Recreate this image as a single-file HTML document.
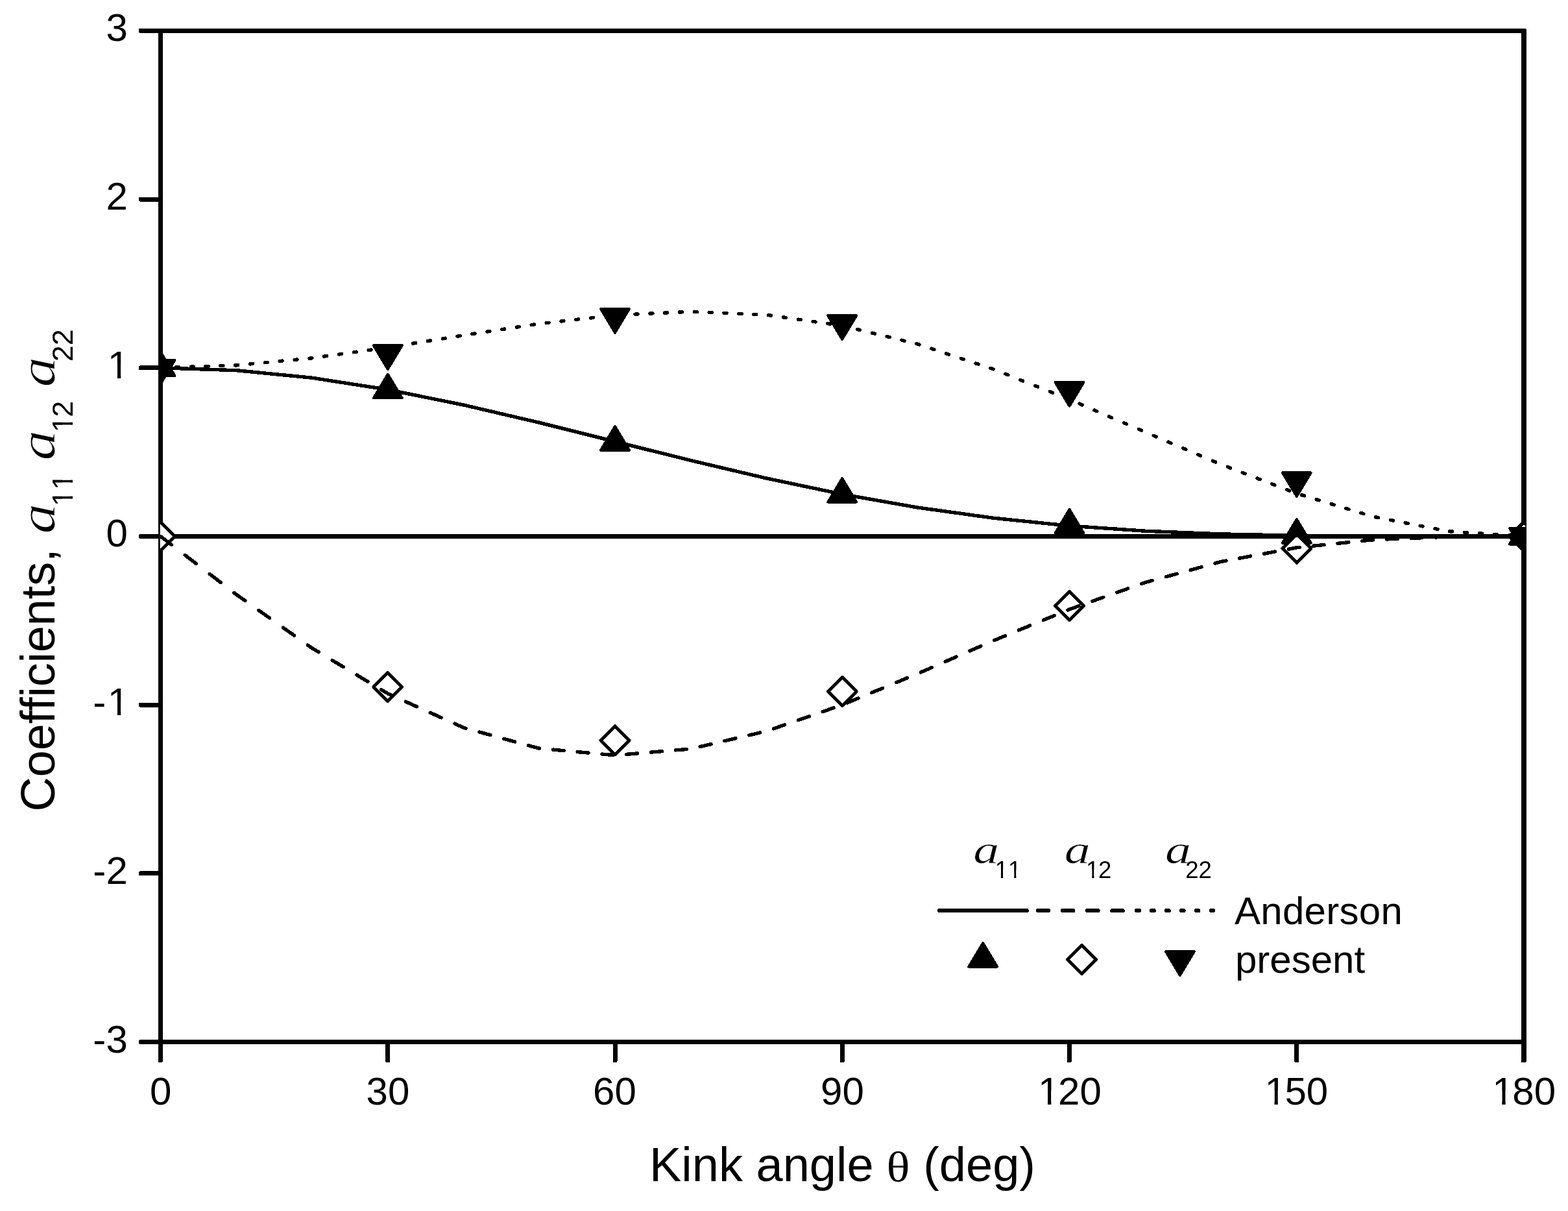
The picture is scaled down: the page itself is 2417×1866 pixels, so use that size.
<!DOCTYPE html>
<html lang="en">
<head>
<meta charset="utf-8">
<title>Coefficients a11, a12, a22 versus kink angle</title>
<style>
html,body{margin:0;padding:0;background:#fff;}
body{width:2417px;height:1866px;overflow:hidden;}
svg{display:block;}
.s{font-family:"Liberation Sans",Arial,Helvetica,sans-serif;fill:#000;font-kerning:none;}
.i{font-family:"Liberation Serif","Times New Roman",serif;font-style:italic;fill:#000;}
text{white-space:pre;}
.g{font-family:"Liberation Serif","Times New Roman",serif;fill:#000;}
.k{fill:none;stroke:#000;}
</style>
</head>
<body>
<svg width="2417" height="1866" viewBox="0 0 2417 1866">
<rect x="0" y="0" width="2417" height="1866" fill="#fff"/>
<defs><clipPath id="c"><rect x="246.8" y="43.9" width="2104.4" height="1565.1"/></clipPath></defs>
<g fill="#000" shape-rendering="crispEdges">
<rect x="244.0" y="43.9" width="7.0" height="1593.5" rx="2.4"/><rect x="2345.0" y="43.9" width="8.0" height="1593.5" rx="2.4"/><rect x="213.8" y="43.9" width="2139.2" height="7.0" rx="2.4"/><rect x="213.8" y="1602.0" width="2139.2" height="7.0" rx="2.4"/><rect x="213.8" y="823.0" width="2138.2" height="6.9" rx="2.4"/>
<rect x="213.8" y="303.6" width="34.2" height="6.9" rx="2.4"/><rect x="213.8" y="563.3" width="34.2" height="6.9" rx="2.4"/><rect x="213.8" y="1082.7" width="34.2" height="6.9" rx="2.4"/><rect x="213.8" y="1342.4" width="34.2" height="6.9" rx="2.4"/>
<rect x="594.2" y="1605.5" width="7.0" height="31.9" rx="2.4"/><rect x="944.5" y="1605.5" width="7.0" height="31.9" rx="2.4"/><rect x="1294.8" y="1605.5" width="7.0" height="31.9" rx="2.4"/><rect x="1645.0" y="1605.5" width="7.0" height="31.9" rx="2.4"/><rect x="1995.2" y="1605.5" width="7.0" height="31.9" rx="2.4"/>
</g>
<g clip-path="url(#c)" shape-rendering="crispEdges">
<g fill="#000" stroke="#000" stroke-width="4.0" stroke-linejoin="round">
<polygon points="225.5,578.9 269.5,578.9 247.5,542.3"/><polygon points="575.8,613.4 619.8,613.4 597.8,576.8"/><polygon points="926.0,693.7 970.0,693.7 948.0,657.1"/><polygon points="1276.2,773.6 1320.2,773.6 1298.2,737.0"/><polygon points="1626.5,821.6 1670.5,821.6 1648.5,785.0"/><polygon points="1976.8,836.7 2020.8,836.7 1998.8,800.1"/><polygon points="2327.0,838.5 2371.0,838.5 2349.0,801.9"/>
</g>
<g fill="#fff" stroke="#000" stroke-width="5" stroke-linejoin="round">
<polygon points="247.5,804.2 269.5,826.2 247.5,848.2 225.5,826.2"/><polygon points="597.8,1036.4 619.8,1058.4 597.8,1080.4 575.8,1058.4"/><polygon points="948.0,1118.7 970.0,1140.7 948.0,1162.7 926.0,1140.7"/><polygon points="1298.2,1043.4 1320.2,1065.4 1298.2,1087.4 1276.2,1065.4"/><polygon points="1648.5,911.3 1670.5,933.3 1648.5,955.3 1626.5,933.3"/><polygon points="1998.8,823.1 2020.8,845.1 1998.8,867.1 1976.8,845.1"/><polygon points="2349.0,804.5 2371.0,826.5 2349.0,848.5 2327.0,826.5"/>
</g>
<g fill="#000" stroke="#000" stroke-width="4.0" stroke-linejoin="round">
<polygon points="225.5,554.9 269.5,554.9 247.5,591.5"/><polygon points="575.8,532.2 619.8,532.2 597.8,568.8"/><polygon points="926.0,476.1 970.0,476.1 948.0,512.7"/><polygon points="1276.2,486.2 1320.2,486.2 1298.2,522.8"/><polygon points="1626.5,589.1 1670.5,589.1 1648.5,625.7"/><polygon points="1976.8,728.4 2020.8,728.4 1998.8,765.0"/><polygon points="2327.0,814.0 2371.0,814.0 2349.0,850.6"/>
</g>
<g class="k" stroke-width="5.4" stroke-linecap="round" stroke-linejoin="round">
<path d="M247.5 566.8L364.2 570.7L481.0 582.2L597.8 600.4L714.5 624.0L831.2 651.2L948.0 680.4L1064.8 709.5L1181.5 737.0L1298.2 761.5L1415.0 782.1L1531.8 798.3L1648.5 810.2L1765.2 818.2L1882.0 822.9L1998.8 825.3L2115.5 826.2L2232.2 826.4L2349.0 826.5"/>
<path d="M247.5 826.5L264.5 839.5M285.3 855.4L302.3 868.5M323.1 884.4L340.1 897.4M360.9 913.4L364.2 916.0L377.9 925.6M398.7 940.4L415.7 952.4M436.5 967.2L453.5 979.2M474.3 994.0L481.0 998.7L491.3 1004.9M512.1 1017.4L529.1 1027.6M549.9 1040.0L566.9 1050.2M587.7 1062.7L597.8 1068.7L604.7 1071.9M625.5 1081.2L642.5 1088.9M663.3 1098.2L680.3 1105.9M701.1 1115.2L714.5 1121.2L718.1 1122.2M738.9 1127.9L755.9 1132.6M776.7 1138.3L793.7 1143.0M814.5 1148.7L831.2 1153.2L831.5 1153.3M852.3 1155.1L869.3 1156.7M890.1 1158.6L907.1 1160.1M927.9 1162.0L944.9 1163.5M965.7 1162.3L982.7 1160.9M1003.5 1159.1L1020.5 1157.7M1041.3 1155.9L1058.3 1154.5M1079.1 1150.6L1096.1 1146.6M1116.9 1141.7L1133.9 1137.7M1154.7 1132.9L1171.7 1128.9M1192.5 1122.8L1209.5 1116.9M1230.3 1109.7L1247.3 1103.8M1268.1 1096.6L1285.1 1090.7M1305.9 1083.0L1322.9 1075.9M1343.7 1067.3L1360.7 1060.3M1381.5 1051.7L1398.5 1044.6M1419.3 1035.9L1436.3 1028.5M1457.1 1019.5L1474.1 1012.1M1494.9 1003.0L1511.9 995.6M1532.7 986.6L1549.7 979.6M1570.5 971.0L1587.5 964.0M1608.3 955.5L1625.3 948.5M1646.1 939.9L1648.5 938.9L1663.1 933.7M1683.9 926.3L1700.9 920.3M1721.7 912.9L1738.7 906.9M1759.5 899.5L1765.2 897.5L1776.5 894.4M1797.3 888.7L1814.3 884.1M1835.1 878.4L1852.1 873.7M1872.9 868.0L1882.0 865.5L1889.9 864.0M1910.7 860.2L1927.7 857.0M1948.5 853.2L1965.5 850.0M1986.3 846.2L1998.8 843.8L2003.3 843.4M2024.1 841.2L2041.1 839.5M2061.9 837.3L2078.9 835.6M2099.7 833.4L2115.5 831.8L2116.7 831.8M2137.5 830.9L2154.5 830.2M2175.3 829.4L2192.3 828.7M2213.1 827.9L2230.1 827.2M2250.9 827.0L2267.9 826.9M2288.7 826.8L2305.7 826.7M2326.5 826.6L2343.5 826.5"/>
<path d="M248.5 566.7L252.6 566.6M271.3 566.0L275.4 565.8M294.2 565.2L298.3 565.1M317.0 564.4L321.1 564.3M339.8 563.7L343.9 563.5M362.6 562.9L364.2 562.9L366.8 562.6M385.5 560.9L389.6 560.5M408.3 558.7L412.4 558.3M431.1 556.5L435.2 556.1M454.0 554.4L458.1 554.0M476.8 552.2L480.9 551.8M499.6 549.2L503.7 548.6M522.5 546.0L526.6 545.4M545.3 542.8L549.4 542.2M568.1 539.6L572.2 539.0M591.0 536.4L595.1 535.8M613.8 532.9L617.9 532.2M636.6 529.2L640.7 528.6M659.4 525.5L663.5 524.9M682.3 521.9L686.4 521.2M705.1 518.2L709.2 517.5M727.9 514.6L732.0 514.0M750.8 511.1L754.9 510.5M773.6 507.7L777.7 507.0M796.4 504.2L800.5 503.5M819.2 500.7L823.4 500.1M842.1 497.6L846.2 497.2M864.9 495.0L869.0 494.6M887.7 492.4L891.8 492.0M910.6 489.9L914.7 489.4M933.4 487.3L937.5 486.8M956.2 485.2L960.3 485.0M979.1 484.2L983.2 484.0M1001.9 483.1L1006.0 482.9M1024.7 482.1L1028.8 481.9M1047.5 481.0L1051.6 480.8M1070.4 480.5L1074.5 480.6M1093.2 481.4L1097.3 481.6M1116.0 482.4L1120.1 482.6M1138.9 483.4L1143.0 483.5M1161.7 484.3L1165.8 484.5M1184.5 485.6L1188.6 486.2M1207.4 488.9L1211.5 489.5M1230.2 492.1L1234.3 492.7M1253.0 495.4L1257.1 496.0M1275.8 498.6L1279.9 499.2M1298.7 502.0L1302.8 502.9M1321.5 507.5L1325.6 508.5M1344.3 513.1L1348.4 514.1M1367.2 518.6L1371.3 519.6M1390.0 524.2L1394.1 525.2M1412.8 529.7L1415.0 530.3L1416.9 530.9M1435.7 537.1L1439.8 538.5M1458.5 544.7L1462.6 546.1M1481.3 552.3L1485.4 553.7M1504.1 559.9L1508.2 561.2M1527.0 567.5L1531.1 568.8M1549.8 576.2L1553.9 577.8M1572.6 585.3L1576.7 586.9M1595.5 594.4L1599.6 596.0M1618.3 603.4L1622.4 605.1M1641.1 612.5L1645.2 614.2M1664.0 622.1L1668.1 623.9M1686.8 632.0L1690.9 633.7M1709.6 641.8L1713.7 643.6M1732.4 651.6L1736.5 653.4M1755.3 661.5L1759.4 663.2M1778.1 671.3L1782.2 673.0M1800.9 681.0L1805.0 682.8M1823.8 690.8L1827.9 692.5M1846.6 700.5L1850.7 702.2M1869.4 710.2L1873.5 712.0M1892.3 719.5L1896.4 721.1M1915.1 728.3L1919.2 729.9M1937.9 737.0L1942.0 738.6M1960.7 745.8L1964.8 747.4M1983.6 754.5L1987.7 756.1M2006.4 762.7L2010.5 763.9M2029.2 769.6L2033.3 770.9M2052.1 776.6L2056.2 777.8M2074.9 783.5L2079.0 784.7M2097.7 790.4L2101.8 791.7M2120.6 796.8L2124.7 797.6M2143.4 801.3L2147.5 802.1M2166.2 805.7L2170.3 806.5M2189.1 810.2L2193.2 811.0M2211.9 814.6L2216.0 815.4M2234.7 818.8L2238.8 819.0M2257.5 820.3L2261.6 820.6M2280.4 821.8L2284.5 822.1M2303.2 823.4L2307.3 823.6M2326.0 824.9L2330.1 825.2M2348.9 826.4L2349.0 826.5"/>
</g>
</g>
<g shape-rendering="crispEdges">
<g class="k" stroke-width="6.1" stroke-linecap="round">
<path d="M1447.8 1403.1H1582.8M1600.0 1403.1H1616.4M1638.1 1403.1H1654.5M1676.2 1403.1H1692.6M1714.3 1403.1H1730.7M1752.2 1403.1H1755.9M1775.1 1403.1H1778.8M1798.0 1403.1H1801.7M1820.9 1403.1H1824.6M1843.8 1403.1H1847.5M1866.7 1403.1H1870.4"/>
</g>
<g fill="#000" stroke="#000" stroke-width="4.0" stroke-linejoin="round"><polygon points="1493.2,1489.6 1537.2,1489.6 1515.2,1453.0"/><polygon points="1796.9,1466.2 1840.9,1466.2 1818.9,1502.8"/></g>
<g fill="#fff" stroke="#000" stroke-width="5" stroke-linejoin="round"><polygon points="1667.6,1456.5 1689.6,1478.5 1667.6,1500.5 1645.6,1478.5"/></g>
</g>
<g class="s" font-size="60">
<text x="163.5" y="63.4">3</text>
<text x="163.5" y="323.1">2</text>
<text x="165.8" y="582.8">1</text>
<text x="163.5" y="842.4">0</text>
<text x="143.3 165.8" y="1102.1">-1</text>
<text x="143.3 163.5" y="1361.8">-2</text>
<text x="143.3 163.5" y="1621.5">-3</text>
<text x="231.0" y="1702.0">0</text>
<text x="564.6 598.0" y="1702.0">30</text>
<text x="914.0 947.4" y="1702.0">60</text>
<text x="1265.1 1298.5" y="1702.0">90</text>
<text x="1599.9 1631.0 1664.4" y="1702.0">120</text>
<text x="1949.4 1980.5 2013.8" y="1702.0">150</text>
<text x="2300.2 2331.3 2364.7" y="1702.0">180</text>
</g>
<g class="s" font-size="60">
<text x="1902.9" y="1423.9" letter-spacing="0.3">Anderson</text>
<text x="1904.0" y="1499.0">present</text>
</g>
<text class="i" font-size="61.5" transform="translate(1500.3 1329.8) scale(1.3 1)" stroke="#fff" stroke-width="0.6">a</text><g class="s" font-size="36.5"><text x="1533.7 1554.0" y="1353.3">11</text></g>
<text class="i" font-size="61.5" transform="translate(1640.7 1329.8) scale(1.3 1)" stroke="#fff" stroke-width="0.6">a</text><g class="s" font-size="36.5"><text x="1674.1 1693.0" y="1353.3">12</text></g>
<text class="i" font-size="61.5" transform="translate(1795.9 1329.8) scale(1.3 1)" stroke="#fff" stroke-width="0.6">a</text><g class="s" font-size="36.5"><text x="1827.2 1847.5" y="1353.3">22</text></g>
<g class="s" font-size="74"><text x="1001.0" y="1820.0">Kink angle</text><text class="g" font-size="65.3" transform="translate(1366.4 1820.2) scale(1.15 1)">θ</text><text x="1423.2" y="1820.0">(deg)</text></g>
<g fill="#fff"><rect x="168.47" y="561.17" width="12.45" height="24.10"/><rect x="186.22" y="561.17" width="11.84" height="24.10"/><rect x="168.47" y="1080.53" width="12.45" height="24.10"/><rect x="186.22" y="1080.53" width="11.84" height="24.10"/><rect x="1602.58" y="1680.40" width="12.45" height="24.10"/><rect x="1620.34" y="1680.40" width="11.84" height="24.10"/><rect x="1952.03" y="1680.40" width="12.45" height="24.10"/><rect x="1969.79" y="1680.40" width="11.84" height="24.10"/><rect x="2302.88" y="1680.40" width="12.45" height="24.10"/><rect x="2320.64" y="1680.40" width="11.84" height="24.10"/><rect x="1535.30" y="1340.16" width="7.57" height="15.64"/><rect x="1546.10" y="1340.16" width="7.20" height="15.64"/><rect x="1555.60" y="1340.16" width="7.57" height="15.64"/><rect x="1566.40" y="1340.16" width="7.20" height="15.64"/><rect x="1675.70" y="1340.16" width="7.57" height="15.64"/><rect x="1686.50" y="1340.16" width="7.20" height="15.64"/></g>
<g transform="translate(83.9 1250.5) rotate(-90)">
<g class="s" font-size="74"><text x="0.0" y="0.0" letter-spacing="-0.18">Coefficients,</text></g>
<text class="i" font-size="77.8" transform="translate(428.0 0.2) scale(1.2 1)" stroke="#fff" stroke-width="1.0">a</text><g class="s" font-size="45"><text x="470.6 495.7" y="28.5">11</text></g>
<text class="i" font-size="77.8" transform="translate(541.0 0.2) scale(1.2 1)" stroke="#fff" stroke-width="1.0">a</text><g class="s" font-size="45"><text x="584.5 607.8" y="28.5">12</text></g>
<text class="i" font-size="77.8" transform="translate(653.9 0.2) scale(1.2 1)" stroke="#fff" stroke-width="1.0">a</text><g class="s" font-size="45"><text x="693.3 718.3" y="28.5">22</text></g>
<g fill="#fff"><rect x="472.60" y="12.30" width="9.34" height="18.70"/><rect x="485.92" y="12.30" width="8.88" height="18.70"/><rect x="497.63" y="12.30" width="9.34" height="18.70"/><rect x="510.94" y="12.30" width="8.88" height="18.70"/><rect x="586.50" y="12.30" width="9.34" height="18.70"/><rect x="599.82" y="12.30" width="8.88" height="18.70"/></g>
</g>
</svg>
</body>
</html>
